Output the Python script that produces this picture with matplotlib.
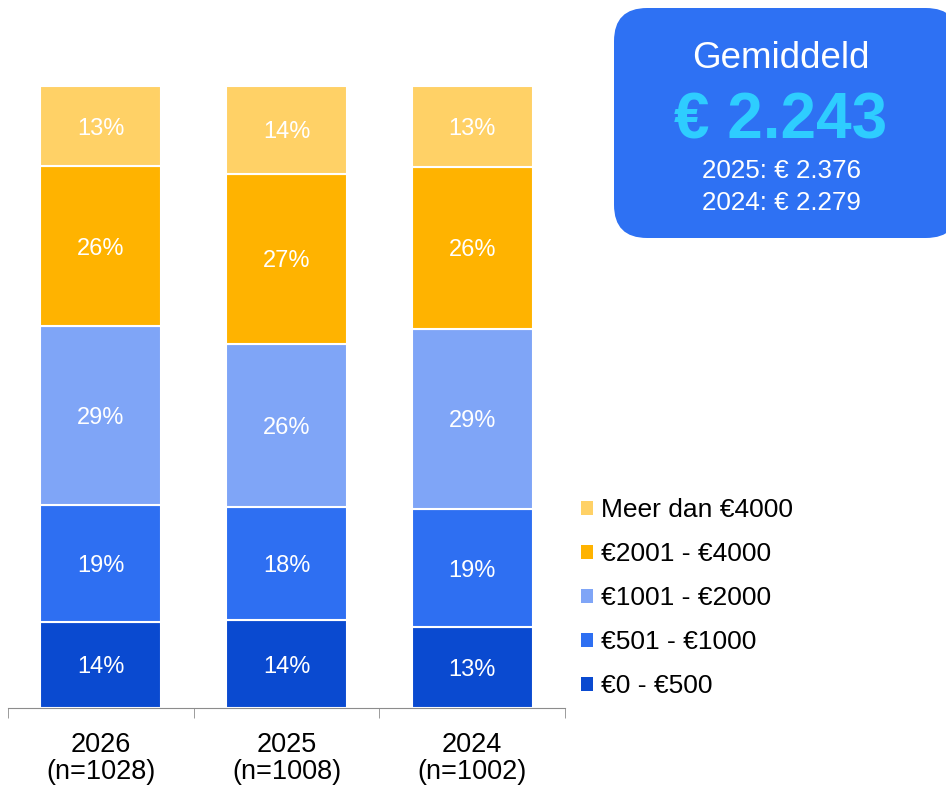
import numpy as np
import matplotlib.pyplot as plt
from matplotlib.patches import FancyBboxPatch, Patch

plt.rcParams['font.family'] = ['Liberation Sans', 'DejaVu Sans']

# Data
years = ["2026\n(n=1028)", "2025\n(n=1008)", "2024\n(n=1002)"]
categories = ["€0 - €500", "€501 - €1000", "€1001 - €2000", "€2001 - €4000", "Meer dan €4000"]
v_0_500 = [14, 14, 13]
v_501_1000 = [19, 18, 19]
v_1001_2000 = [29, 26, 29]
v_2001_4000 = [26, 27, 26]
v_4000_plus = [13, 14, 13]
colors = ["#0A4AD0", "#2E6FF2", "#7FA5F7", "#FFB300", "#FFD166"]

avg_now = "€ 2.243"
avg_prev = ["2025: € 2.376", "2024: € 2.279"]

series = np.array([v_0_500, v_501_1000, v_1001_2000, v_2001_4000, v_4000_plus], dtype=float)
shares = series / series.sum(axis=0) * 100
x = np.arange(len(years))

fig = plt.figure(figsize=(9.46, 7.85), dpi=100)
ax = fig.add_axes([8/946, 1 - 708/785, (565-8)/946, (708-86)/785])

bottom = np.zeros(len(years))
for i, cat in enumerate(categories):
    ax.bar(x, shares[i], 0.65, bottom=bottom, color=colors[i], edgecolor="white",
           linewidth=1.5, label=cat)
    for xi, b, h, v in zip(x, bottom, shares[i], series[i]):
        ax.text(xi, b + h / 2, "{:.0f}%".format(v), ha="center", va="center_baseline",
                color="white", fontsize=17)
    bottom += shares[i]

ax.set_xlim(-0.5, 2.5)
ax.set_ylim(0, 100)
for s in ["top", "left", "right"]:
    ax.spines[s].set_visible(False)
ax.spines["bottom"].set_color("#8c8c8c")
ax.set_yticks([])
ax.set_xticks(x)
ax.set_xticklabels(years, fontsize=19.5, linespacing=1.05)
ax.tick_params(axis="x", which="major", length=0, pad=17)
ax.set_xticks([-0.5, 0.5, 1.5, 2.5], minor=True)
ax.tick_params(axis="x", which="minor", length=7, color="#8c8c8c", direction="out")

handles = [Patch(facecolor=c, edgecolor="none") for c in colors][::-1]
fig.legend(handles, categories[::-1], loc="upper left", bbox_to_anchor=(568/946, 1 - 485/785),
           frameon=False, fontsize=19, handlelength=0.45, handleheight=0.45,
           handletextpad=0.3, labelspacing=0.76, borderpad=0)

# Average box
box = FancyBboxPatch((614/946, 1 - 238/785), 345/946, 230/785,
                     boxstyle="round,pad=0,rounding_size=0.035", mutation_aspect=946/785,
                     transform=fig.transFigure, facecolor="#2E71F3", edgecolor="none")
fig.patches.append(box)
fig.text(781/946, 1 - 55/785, "Gemiddeld", ha="center", va="center_baseline", color="white",
         fontsize=26.5)
fig.text(781/946, 1 - 115/785, avg_now, ha="center", va="center_baseline", color="#2ECDFF",
         fontsize=46, fontweight="bold")
fig.text(781/946, 1 - 169/785, avg_prev[0], ha="center", va="center_baseline", color="white",
         fontsize=18.7)
fig.text(781/946, 1 - 200/785, avg_prev[1], ha="center", va="center_baseline", color="white",
         fontsize=18.7)

fig.savefig("out.png", dpi=100)
